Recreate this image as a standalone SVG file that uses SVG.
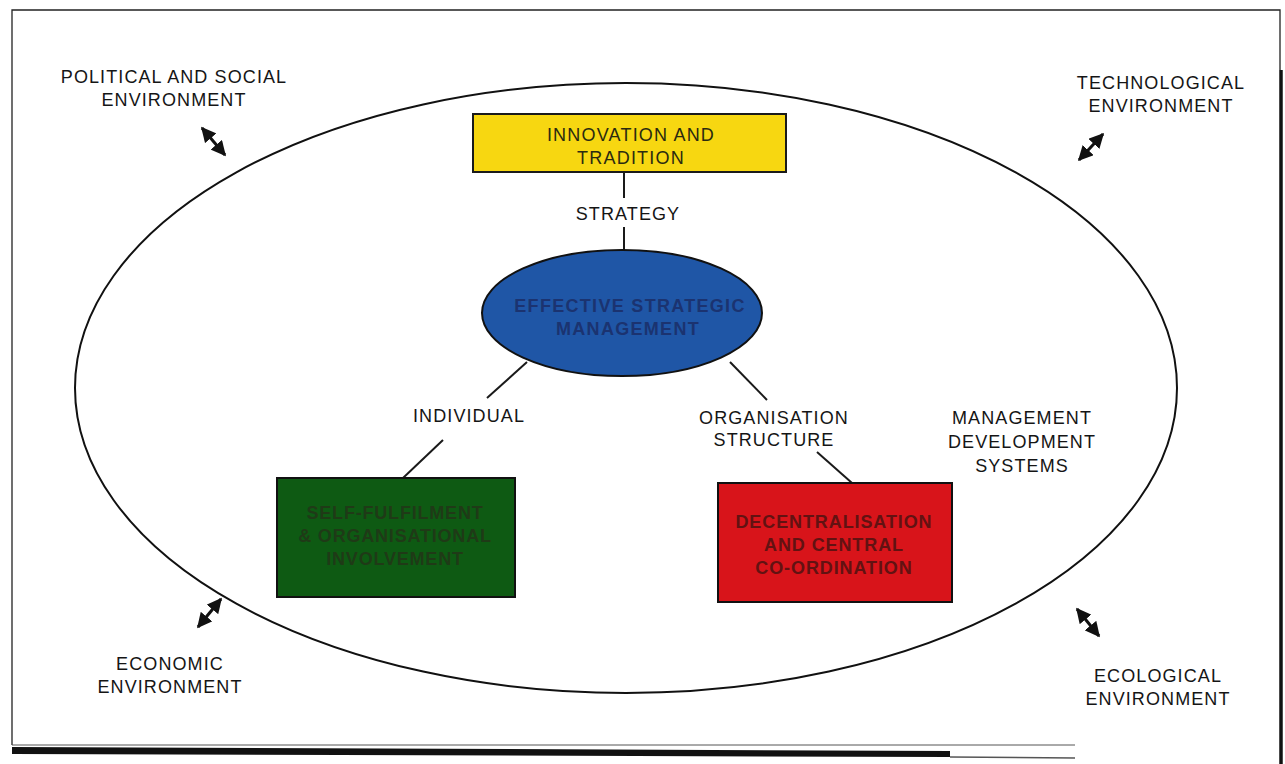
<svg xmlns="http://www.w3.org/2000/svg" width="1285" height="764" viewBox="0 0 1285 764">
  <defs>
    <marker id="head" viewBox="0 0 10 10" refX="9" refY="5" markerWidth="5" markerHeight="5" orient="auto-start-reverse" markerUnits="strokeWidth">
      <path d="M0,0 L10,5 L0,10 z" fill="#111"/>
    </marker>
    <style>
      .lbl { font-family: "Liberation Sans", Arial, sans-serif; font-size: 18px; letter-spacing: 1.1px; fill: #151515; text-anchor: middle; }
      .box { font-family: "Liberation Sans", Arial, sans-serif; font-size: 18px; text-anchor: middle; }
      .conn { stroke: #1a1a1a; stroke-width: 2; fill: none; }
      .dbl { stroke: #111; stroke-width: 3; fill: none; marker-start: url(#head); marker-end: url(#head); }
    </style>
  </defs>

  <rect width="1285" height="764" fill="#fff"/>

  <!-- page frame with heavy shadow on bottom and right -->
  <g id="frame">
    <path d="M12,745 L12,10 L1280,10 L1280,70" stroke="#222" stroke-width="1.3" fill="none"/>
    <path d="M12,745 L1075,745" stroke="#555" stroke-width="1" fill="none"/>
    <polygon points="12,747 950,751 950,757 12,754" fill="#111"/>
    <line x1="950" y1="757" x2="1075" y2="758" stroke="#555" stroke-width="1.5"/>
    <line x1="1281" y1="70" x2="1281" y2="764" stroke="#111" stroke-width="3.5"/>
  </g>

  <!-- organisation boundary -->
  <g id="boundary">
    <ellipse cx="626" cy="388" rx="551" ry="305" fill="none" stroke="#111" stroke-width="2"/>
  </g>

  <!-- connectors -->
  <g id="connectors">
    <line class="conn" x1="624" y1="173" x2="624" y2="198"/>
    <line class="conn" x1="624" y1="227" x2="624" y2="251"/>
    <line class="conn" x1="527" y1="362" x2="487" y2="398"/>
    <line class="conn" x1="443" y1="440" x2="403" y2="478"/>
    <line class="conn" x1="730" y1="362" x2="767" y2="400"/>
    <line class="conn" x1="817" y1="452" x2="852" y2="483"/>
    <line class="dbl" x1="202" y1="128" x2="225" y2="155"/>
    <line class="dbl" x1="1079" y1="160" x2="1103" y2="134"/>
    <line class="dbl" x1="198" y1="627" x2="221" y2="599"/>
    <line class="dbl" x1="1077" y1="609" x2="1099" y2="636"/>
  </g>

  <!-- connector labels -->
  <g id="edge-labels">
    <text class="lbl" x="628" y="220">STRATEGY</text>
    <text class="lbl" x="469" y="422">INDIVIDUAL</text>
    <text class="lbl" x="774" y="424">ORGANISATION</text>
    <text class="lbl" x="774" y="446">STRUCTURE</text>
  </g>

  <g id="innovation">
    <rect x="473" y="114" width="313" height="58" fill="#f7d711" stroke="#1a1a1a" stroke-width="2"/>
    <text class="box" x="631" y="141" fill="#2a2a10" letter-spacing="1.2">INNOVATION AND</text>
    <text class="box" x="631" y="164" fill="#2a2a10" letter-spacing="1.2">TRADITION</text>
  </g>

  <g id="management">
    <ellipse cx="622" cy="313" rx="140" ry="63" fill="#1f56a6" stroke="#111" stroke-width="2"/>
    <text class="box" x="630" y="312" fill="#1b3370" font-weight="bold" letter-spacing="1.3">EFFECTIVE STRATEGIC</text>
    <text class="box" x="628" y="335" fill="#1b3370" font-weight="bold" letter-spacing="1.3">MANAGEMENT</text>
  </g>

  <g id="individual-box">
    <rect x="277" y="478" width="238" height="119" fill="#0e5a13" stroke="#111" stroke-width="2"/>
    <text class="box" x="395" y="519" fill="#1f3a17" font-weight="bold" letter-spacing="0.8">SELF-FULFILMENT</text>
    <text class="box" x="395" y="542" fill="#1f3a17" font-weight="bold" letter-spacing="0.8">&amp; ORGANISATIONAL</text>
    <text class="box" x="395" y="565" fill="#1f3a17" font-weight="bold" letter-spacing="0.8">INVOLVEMENT</text>
  </g>

  <g id="structure-box">
    <rect x="718" y="483" width="234" height="119" fill="#d8141a" stroke="#111" stroke-width="2"/>
    <text class="box" x="834" y="528" fill="#621212" font-weight="bold" letter-spacing="0.9">DECENTRALISATION</text>
    <text class="box" x="834" y="551" fill="#621212" font-weight="bold" letter-spacing="0.9">AND CENTRAL</text>
    <text class="box" x="834" y="574" fill="#621212" font-weight="bold" letter-spacing="0.9">CO-ORDINATION</text>
  </g>

  <g id="mds">
    <text class="lbl" x="1022" y="424">MANAGEMENT</text>
    <text class="lbl" x="1022" y="448">DEVELOPMENT</text>
    <text class="lbl" x="1022" y="472">SYSTEMS</text>
  </g>

  <g id="political">
    <text class="lbl" x="174" y="83">POLITICAL AND SOCIAL</text>
    <text class="lbl" x="174" y="106">ENVIRONMENT</text>
  </g>

  <g id="technological">
    <text class="lbl" x="1161" y="89">TECHNOLOGICAL</text>
    <text class="lbl" x="1161" y="112">ENVIRONMENT</text>
  </g>

  <g id="economic">
    <text class="lbl" x="170" y="670">ECONOMIC</text>
    <text class="lbl" x="170" y="693">ENVIRONMENT</text>
  </g>

  <g id="ecological">
    <text class="lbl" x="1158" y="682">ECOLOGICAL</text>
    <text class="lbl" x="1158" y="705">ENVIRONMENT</text>
  </g>
</svg>
